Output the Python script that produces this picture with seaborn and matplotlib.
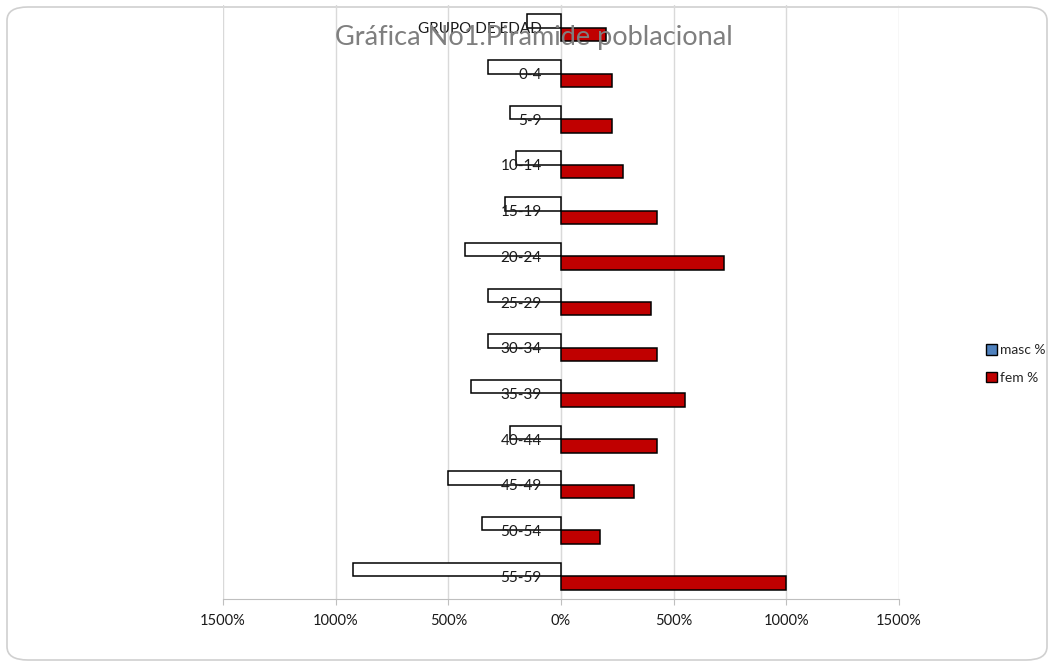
import pandas as pd
import matplotlib.pyplot as plt
import seaborn as sns
from matplotlib.patches import FancyBboxPatch, Patch
from matplotlib.ticker import FuncFormatter

# Datos
grupos = ['GRUPO DE EDAD', '0-4', '5-9', '10-14', '15-19', '20-24', '25-29',
          '30-34', '35-39', '40-44', '45-49', '50-54', '55-59']
masc = [150, 325, 225, 200, 250, 425, 325, 325, 400, 225, 500, 350, 925]
fem = [200, 225, 225, 275, 425, 725, 400, 425, 550, 425, 325, 175, 1000]
ticks = [-1500, -1000, -500, 0, 500, 1000, 1500]

# masculino va a la izquierda (negativo)
df = pd.DataFrame({
    'grupo': grupos * 2,
    'sexo': ['masc %'] * len(grupos) + ['fem %'] * len(grupos),
    'valor': [-v for v in masc] + fem,
})

sns.set_style('white')
plt.rcParams['font.family'] = ['Lato', 'DejaVu Sans']

fig = plt.figure(figsize=(10.5, 6.66), dpi=100)

# marco redondeado del grafico
marco = FancyBboxPatch((7 / 1050, 6 / 666), 1040 / 1050, 653 / 666,
                       boxstyle='round,pad=0,rounding_size=0.02',
                       transform=fig.transFigure, facecolor='none',
                       edgecolor='#D0D0D0', linewidth=1.2, zorder=-5)
fig.patches.append(marco)

ax = fig.add_axes([223 / 1050, 1 - 599 / 666, 676 / 1050, 594 / 666])
ax.set_facecolor('none')

sns.barplot(
    data=df, x='valor', y='grupo', hue='sexo', order=grupos,
    hue_order=['masc %', 'fem %'], palette={'masc %': 'white', 'fem %': '#C00000'},
    saturation=1, orient='h', width=0.59, edgecolor='black', linewidth=1.1,
    legend=False, ax=ax, zorder=3,
)

ax.set_xlim(-1500, 1500)
ax.set_xticks(ticks)
ax.xaxis.set_major_formatter(FuncFormatter(lambda v, p: f'{abs(int(v))}%'))
ax.grid(axis='x', color='#D9D9D9', linewidth=1, zorder=0)
ax.set_xlabel('')
ax.set_ylabel('')

# eje vertical en el cero
ax.spines['left'].set_position(('data', 0))
ax.spines['left'].set_color('#D9D9D9')
ax.spines['bottom'].set_color('#BFBFBF')
ax.spines['top'].set_visible(False)
ax.spines['right'].set_visible(False)
ax.tick_params(axis='y', length=0, pad=14, labelsize=11, labelcolor='#1a1a1a')
ax.tick_params(axis='x', direction='out', length=4, color='#BFBFBF',
               labelsize=10.5, labelcolor='#1a1a1a', pad=7, bottom=True)
ax.yaxis.set_zorder(5)

# leyenda (colores como en el original)
handles = [Patch(facecolor='#4F81BD', edgecolor='black', label='masc %'),
           Patch(facecolor='#C00000', edgecolor='black', label='fem %')]
fig.legend(handles=handles, loc='center left', bbox_to_anchor=(973 / 1050, 1 - 364 / 666),
           frameon=False, fontsize=10, handlelength=0.8, handleheight=0.8,
           handletextpad=0.25, labelspacing=1.1)

fig.text(534 / 1050, 1 - 37 / 666, 'Gráfica No1.Piramide poblacional',
         ha='center', va='center', fontsize=19.5, color='#7F7F7F', zorder=10)

fig.savefig('out.png', dpi=100)
